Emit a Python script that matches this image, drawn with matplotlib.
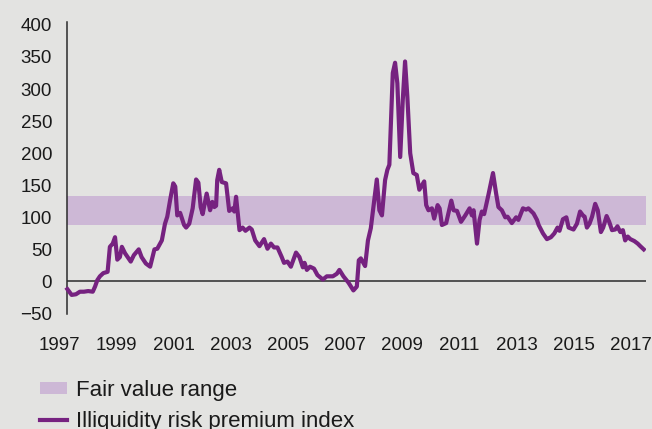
import matplotlib
matplotlib.use('Agg')
import matplotlib.pyplot as plt
from matplotlib.patches import Patch
from matplotlib.lines import Line2D

plt.rcParams['font.family'] = ['Liberation Sans', 'DejaVu Sans']

# illiquidity risk premium index (decimal years)
years = [1997.27, 1997.42, 1997.57, 1997.71, 1997.85, 1998.00, 1998.16, 1998.24, 1998.32, 1998.41,
         1998.53, 1998.68, 1998.76, 1998.86, 1998.94, 1999.02, 1999.11, 1999.18, 1999.29, 1999.49,
         1999.60, 1999.77, 1999.87, 2000.02, 2000.17, 2000.32, 2000.42, 2000.58, 2000.69, 2000.77,
         2000.87, 2000.98, 2001.05, 2001.12, 2001.22, 2001.36, 2001.43, 2001.54, 2001.66, 2001.78,
         2001.86, 2001.94, 2002.01, 2002.15, 2002.27, 2002.35, 2002.42, 2002.48, 2002.52, 2002.59,
         2002.68, 2002.83, 2002.94, 2003.06, 2003.12, 2003.18, 2003.30, 2003.41, 2003.51, 2003.65,
         2003.73, 2003.85, 2004.00, 2004.16, 2004.28, 2004.40, 2004.51, 2004.63, 2004.78, 2004.86,
         2004.98, 2005.10, 2005.28, 2005.40, 2005.52, 2005.58, 2005.66, 2005.77, 2005.91, 2006.03,
         2006.22, 2006.36, 2006.57, 2006.71, 2006.80, 2006.94, 2007.12, 2007.29, 2007.41, 2007.48,
         2007.55, 2007.70, 2007.80, 2007.90, 2007.99, 2008.11, 2008.20, 2008.29, 2008.40, 2008.48,
         2008.55, 2008.67, 2008.75, 2008.83, 2008.93, 2009.02, 2009.10, 2009.18, 2009.28, 2009.39,
         2009.51, 2009.60, 2009.77, 2009.84, 2009.92, 2010.04, 2010.12, 2010.24, 2010.31, 2010.39,
         2010.54, 2010.72, 2010.80, 2010.92, 2011.06, 2011.21, 2011.36, 2011.44, 2011.50, 2011.62,
         2011.71, 2011.79, 2011.87, 2012.02, 2012.18, 2012.29, 2012.37, 2012.49, 2012.61, 2012.69,
         2012.84, 2012.99, 2013.07, 2013.23, 2013.34, 2013.42, 2013.60, 2013.72, 2013.78, 2013.93,
         2014.07, 2014.21, 2014.33, 2014.44, 2014.51, 2014.63, 2014.75, 2014.83, 2015.00, 2015.12,
         2015.23, 2015.33, 2015.39, 2015.47, 2015.56, 2015.65, 2015.76, 2015.85, 2015.96, 2016.04,
         2016.16, 2016.25, 2016.35, 2016.46, 2016.54, 2016.64, 2016.73, 2016.81, 2016.90, 2016.99,
         2017.13, 2017.25, 2017.34, 2017.46]
premium = [-12, -21, -20, -16, -16, -15, -16, -8, 2, 8,
           13, 15, 54, 59, 69, 34, 38, 54, 44, 31,
           41, 50, 38, 28, 23, 50, 51, 64, 90, 101,
           127, 153, 148, 103, 107, 88, 84, 90, 114, 159,
           154, 116, 105, 137, 111, 124, 116, 118, 158, 174,
           155, 153, 110, 114, 109, 132, 80, 84, 79, 84,
           81, 64, 55, 66, 51, 59, 53, 53, 38, 29,
           31, 23, 45, 38, 22, 29, 18, 23, 20, 10,
           3, 8, 8, 12, 18, 8, -2, -14, -8, 33,
           36, 24, 64, 83, 116, 159, 111, 103, 158, 174,
           182, 325, 341, 309, 194, 283, 343, 288, 200, 169,
           166, 143, 156, 119, 111, 114, 98, 119, 114, 88,
           91, 126, 111, 110, 93, 103, 114, 103, 111, 59,
           96, 109, 105, 135, 169, 137, 116, 111, 100, 101,
           91, 100, 96, 114, 112, 114, 106, 96, 88, 75,
           66, 69, 75, 84, 79, 97, 100, 84, 81, 90,
           109, 103, 101, 84, 90, 101, 121, 111, 77, 84,
           102, 93, 80, 81, 86, 77, 80, 64, 70, 66,
           63, 59, 55, 50]

fair_low, fair_high = 88, 133
band_end = 2017.54
year_ticks = list(range(1997, 2018, 2))
value_ticks = list(range(-50, 401, 50))
labels = ['Fair value range', 'Illiquidity risk premium index']

bg = '#e3e3e1'
purple = '#762280'
band_col = '#cdb8d6'
axis_col = '#2b2b2b'

fig = plt.figure(figsize=(6.52, 4.29), dpi=100, facecolor=bg)
ax = fig.add_axes([0.0871, 0.2692, 0.9037, 0.6802])
ax.set_facecolor(bg)

x0 = years[0]
ax.fill_between([x0, band_end], fair_low, fair_high, color=band_col, lw=0, zorder=1)
ax.hlines(0, x0, band_end, color=axis_col, lw=1.1, zorder=2)
ax.plot(years, premium, color=purple, lw=3, solid_joinstyle='round', zorder=3)

ax.set_xlim(1996.9, band_end)
ax.set_ylim(-50, 405)
for s in ['top', 'right', 'bottom']:
    ax.spines[s].set_visible(False)
ax.spines['left'].set_position(('data', x0))
ax.spines['left'].set_color(axis_col)
ax.spines['left'].set_linewidth(1.1)

ax.set_xticks(year_ticks)
ax.set_yticks(value_ticks)
ax.tick_params(axis='both', length=0, labelsize=13.5, colors='#1a1a1a')
ax.tick_params(axis='y', pad=11)
ax.tick_params(axis='x', pad=17)

handles = [Patch(facecolor=band_col, edgecolor='none'),
           Line2D([], [], color=purple, lw=3)]
fig.legend(handles, labels, loc='upper left', bbox_to_anchor=(40 / 652, 1 - 380 / 429),
           frameon=False, fontsize=16, handlelength=1.2, handleheight=0.5,
           handletextpad=0.42, labelspacing=0.45, borderpad=0, borderaxespad=0,
           labelcolor='#1a1a1a')

fig.savefig('out.png', dpi=100, facecolor=bg)
